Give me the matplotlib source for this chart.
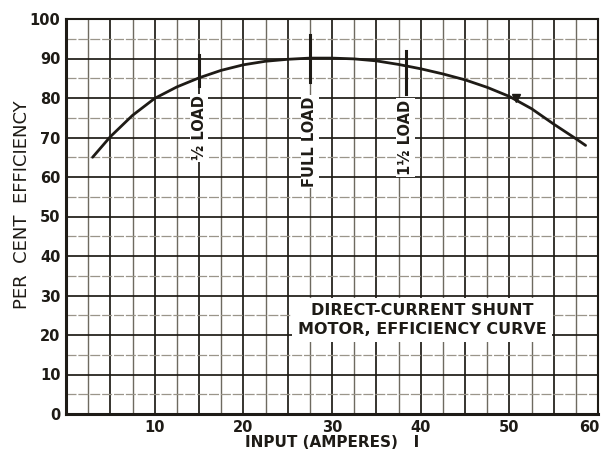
import numpy as np
import matplotlib.pyplot as plt
import matplotlib.transforms as mtrans
from matplotlib.patches import Rectangle

# input current (amperes) and efficiency (per cent)
amps = [3, 5, 7.5, 10, 12.5, 15, 17.5, 20, 22.5, 25, 27.5, 30, 32.5, 35,
        37.5, 40, 42.5, 45, 47.5, 50, 52.5, 55, 57.5, 58.6]
eff = [65, 70.2, 75.6, 79.9, 82.8, 85.1, 87.0, 88.4, 89.3, 89.8, 90.1, 90.1,
       89.9, 89.4, 88.5, 87.4, 86.1, 84.6, 82.7, 80.4, 77.3, 73.4, 69.7, 68]

# load markers along the curve
load_x = [15, 27.5, 38.3]
load_labels = ["½ LOAD", "FULL LOAD", "1½ LOAD"]
load_label_y = [72.5, 69, 70]
load_top = [91, 96, 92]
load_bot = [83, 84, 81]
point_x = [50.8]
point_y = [80]

xticks = [10, 20, 30, 40, 50, 60]
yticks = [0, 10, 20, 30, 40, 50, 60, 70, 80, 90, 100]

title_lines = "DIRECT-CURRENT SHUNT\nMOTOR, EFFICIENCY CURVE"

plt.rcParams['font.family'] = ['DejaVu Sans']
fig = plt.figure(figsize=(6.06, 4.5), dpi=100)
ax = fig.add_axes([66/606, 36/450, 532/606, 395/450])
ax.set_xlim(0, 60)
ax.set_ylim(0, 100)

ink = "#1e1b16"
# graph paper
for v in np.arange(2.5, 60, 2.5):
    strong = (v % 5 == 0)
    ax.axvline(v, color=ink if strong else "#6e6a60", lw=1.25 if strong else 1.0, zorder=1)
for h in np.arange(5, 100, 5):
    strong = (h % 10 == 0)
    ax.axhline(h, color=ink if strong else "#9a958a", lw=1.25 if strong else 0.9,
               ls="-" if strong else (0, (8, 1.5)), zorder=1)

for s in ax.spines.values():
    s.set_color(ink)
    s.set_linewidth(1.5)
ax.spines['left'].set_linewidth(2.2)
ax.spines['bottom'].set_linewidth(2.2)

ax.plot(amps, eff, color=ink, lw=2.0, zorder=4, solid_capstyle="round")
ax.plot(point_x, point_y, marker="v", ms=6, color=ink, zorder=5)

for x, lab, ly, t, b in zip(load_x, load_labels, load_label_y, load_top, load_bot):
    ax.plot([x, x], [b, t], color=ink, lw=2.2, zorder=5)
    ax.text(x, ly, lab, rotation=90, ha="center", va="center", fontsize=10.5,
            fontweight="bold", color=ink, zorder=6,
            bbox=dict(facecolor="white", edgecolor="none", pad=1.2))

# caption block
ax.add_patch(Rectangle((25.5, 18.2), 29.3, 11.2, facecolor="white",
                       edgecolor="none", zorder=3))
ax.text(40.2, 23.8, title_lines, ha="center", va="center", fontsize=11.5,
        fontweight="bold", color=ink, linespacing=1.3, zorder=6)

ax.set_xticks(xticks)
ax.set_yticks(yticks)
ax.tick_params(length=0, labelsize=10.5, colors=ink, pad=4)
for lab in ax.get_xticklabels() + ax.get_yticklabels():
    lab.set_fontweight("bold")
# keep the last x label inside the figure
last = ax.get_xticklabels()[-1]
last.set_transform(last.get_transform() + mtrans.ScaledTranslation(-9/100, 0, fig.dpi_scale_trans))

ax.set_xlabel("INPUT (AMPERES)   I", fontsize=11, fontweight="bold", color=ink, labelpad=0)
fig.text(22/606, 0.545, "PER  CENT  EFFICIENCY", rotation=90, ha="center", va="center",
         fontsize=13, fontweight="medium", color=ink)

fig.savefig("out.png", dpi=100, facecolor="white")
